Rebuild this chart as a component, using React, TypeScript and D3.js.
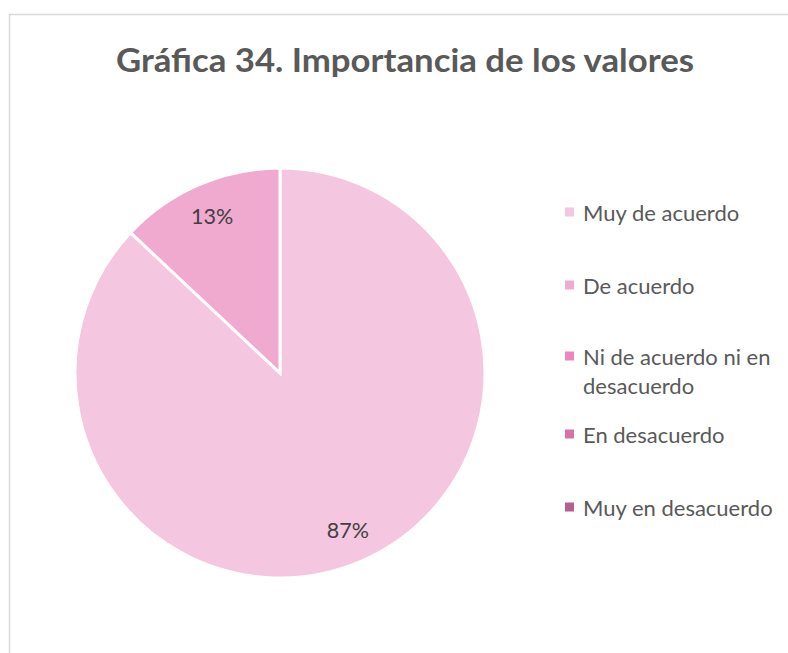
import React from "react";
import * as d3 from "d3";

const categories = ["Muy de acuerdo", "De acuerdo", "Ni de acuerdo ni en desacuerdo", "En desacuerdo", "Muy en desacuerdo"];
const legendLines = [["Muy de acuerdo"], ["De acuerdo"], ["Ni de acuerdo ni en", "desacuerdo"], ["En desacuerdo"], ["Muy en desacuerdo"]];
const values = [87, 13, 0, 0, 0];
const colors = ["#F4C6DF", "#F0A9CF", "#EF85BF", "#D970A8", "#B65F8F"];
const title = "Gráfica 34. Importancia de los valores";

const W = 788, H = 653;
const cx = 280, cy = 373, R = 205;

export default function App() {
  const pie = d3.pie<number>().sort(null).value((d) => d).startAngle(0).endAngle(2 * Math.PI);
  const arcs = pie(values);
  const arc = d3.arc<d3.PieArcDatum<number>>().innerRadius(0).outerRadius(R);
  const labelArc = d3.arc<d3.PieArcDatum<number>>().innerRadius(171).outerRadius(171);
  const total = d3.sum(values);
  const legendY = [212, 285, 356, 434, 507];
  const lineH = 29;
  const font = "Lato, 'Open Sans', sans-serif";
  return (
    <svg width={W} height={H} style={{ position: "absolute", left: 0, top: 0 }} fontFamily={font}>
      <rect x={0} y={0} width={W} height={H} fill="#fff" />
      <rect x={9.5} y={14.5} width={W + 10} height={H + 10} fill="#fff" stroke="#D9D9D9" strokeWidth={1.5} />
      <text x={116} y={72} fontSize={32} fontWeight="bold" fill="#595959" textLength={578} lengthAdjust="spacingAndGlyphs">{title}</text>
      <g transform={`translate(${cx},${cy})`}>
        {arcs.map((a, i) => a.value > 0 && (
          <path key={categories[i]} d={arc(a) || ""} fill={colors[i]} stroke="#fff" strokeWidth={3} strokeLinejoin="miter" />
        ))}
        {arcs.map((a, i) => {
          if (a.value <= 0) return null;
          const [x, y] = labelArc.centroid(a);
          return (
            <text key={"l" + i} x={x} y={y} textAnchor="middle" dominantBaseline="central" fontSize={21.5} fill="#404040">
              {Math.round((a.value / total) * 100) + "%"}
            </text>
          );
        })}
      </g>
      {legendLines.map((lines, i) => (
        <g key={"lg" + i}>
          <rect x={565} y={legendY[i] - 4.5} width={9} height={9} fill={colors[i]} />
          {lines.map((t, j) => (
            <text key={j} x={583} y={legendY[i] + j * lineH} dominantBaseline="central" fontSize={22} fill="#595959">{t}</text>
          ))}
        </g>
      ))}
    </svg>
  );
}
